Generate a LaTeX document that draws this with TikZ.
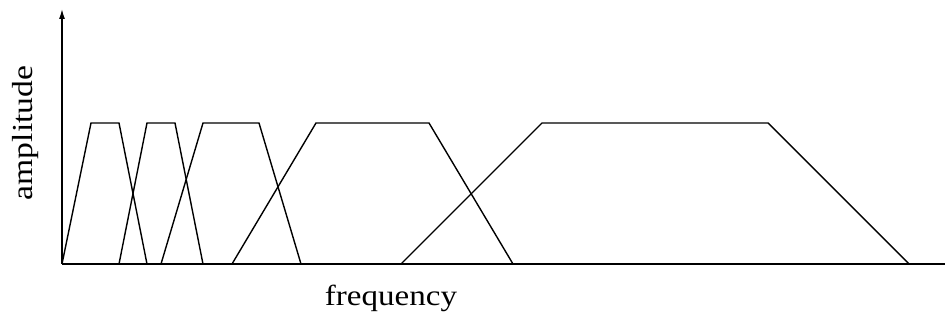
\documentclass[tikz,border=0pt]{standalone}
\usepackage{fontspec}
\setmainfont{Liberation Serif}
\usetikzlibrary{arrows.meta}
\tikzset{
  curve/.style={line width=1.4pt, line join=miter},
  axisline/.style={line width=1.4pt},
  lbl/.style={inner sep=0pt, font=\fontsize{29}{32}\selectfont}
}
\begin{document}
\begin{tikzpicture}[x=1pt,y=-1pt]
\useasboundingbox (0,0) rectangle (947,320);
\coordinate (O) at (62,264);
\coordinate (ytop) at (62,9);
\coordinate (xend) at (945,264);
\draw[axisline,-{Latex[length=10pt,width=6pt]}] (O) -- (ytop);
\draw[axisline] (O) -- (xend);
% trapezoids (unit = 28.2 px from origin)
\draw[curve] (62,264) -- (91,123) -- (119,123) -- (147,264);
\draw[curve] (119,264) -- (147,123) -- (175,123) -- (203,264);
\draw[curve] (161,264) -- (203,123) -- (259,123) -- (301,264);
\draw[curve] (232,264) -- (316,123) -- (429,123) -- (513,264);
\draw[curve] (401,264) -- (542,123) -- (768,123) -- (909,264);
\node[lbl, anchor=base] (xlabel) at (391,305) {\scalebox{1.14}[1]{frequency}};
\node[lbl, anchor=base, rotate=90] (ylabel) at (32,133) {\scalebox{1.16}[1]{amplitude}};
\end{tikzpicture}
\end{document}
